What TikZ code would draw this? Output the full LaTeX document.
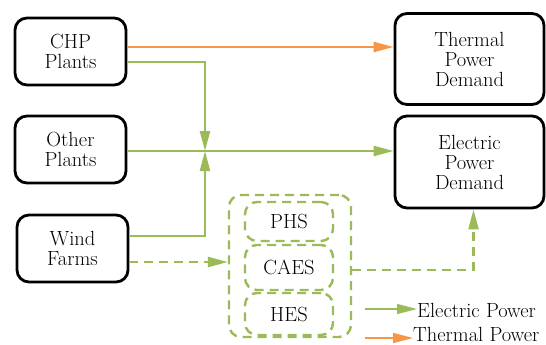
\documentclass[tikz,border=0pt]{standalone}
\usetikzlibrary{arrows.meta}
\definecolor{eg}{HTML}{9BBB59}
\definecolor{th}{HTML}{F79646}
\tikzset{
  txt/.style={font=\fontsize{20.5}{20}\selectfont},
  box/.style={txt, draw=black, line width=2.8pt, rounded corners=12pt, align=center, inner sep=0pt},
  sbox/.style={txt, draw=eg, line width=2.4pt, dash pattern=on 9pt off 6pt, rounded corners=12pt, align=center, inner sep=0pt},
  eline/.style={draw=eg, line width=2.4pt, -{Triangle[length=20pt,width=10pt]}},
  tline/.style={draw=th, line width=2.4pt, -{Triangle[length=20pt,width=10pt]}},
  edash/.style={eline, dash pattern=on 9pt off 6pt},
  leg/.style={txt, inner sep=0pt}
}
\begin{document}
\begin{tikzpicture}[x=1pt,y=-1pt]
\useasboundingbox (0,0) rectangle (546,345);
\node[box, minimum width=111pt, minimum height=67pt] (chp) at (70.5,51.5) {CHP\\Plants};
\node[box, minimum width=111pt, minimum height=67pt] (oth) at (70.5,149.5) {Other\\Plants};
\node[box, minimum width=111pt, minimum height=67pt] (wind) at (72.5,248.5) {Wind\\Farms};
\node[box, minimum width=149pt, minimum height=91pt] (tpd) at (469.5,59) {Thermal\\Power\\Demand};
\node[box, minimum width=149pt, minimum height=92pt] (epd) at (469.5,162) {Electric\\Power\\Demand};
\node[sbox, minimum width=122pt, minimum height=142pt] (sto) at (290,266) {};
\node[sbox, minimum width=88pt, minimum height=39pt] (phs) at (289,221.5) {PHS};
\node[sbox, minimum width=88pt, minimum height=45pt] (caes) at (289,267.5) {CAES};
\node[sbox, minimum width=88pt, minimum height=42pt] (hes) at (289,314) {HES};
\coordinate (J) at (205,151);
% thermal
\draw[tline] ([yshift=4.5pt]chp.east) -- ([yshift=4.5pt]chp.east -| tpd.west);
% electric
\draw[eline] ([yshift=-10.5pt]chp.east) -| (J);
\draw[eline] ([yshift=12.5pt]wind.east) -| (J);
\draw[eline] ([yshift=-1.5pt]oth.east) -- ([yshift=-1.5pt]oth.east -| epd.west);
\draw[edash] ([yshift=-13.5pt]wind.east) -- ([yshift=-13.5pt]wind.east -| sto.west);
\draw[edash] ([yshift=-4pt]sto.east) -| ([xshift=4pt]epd.south);
% legend
\node[leg, anchor=west] (le) at (417,310) {Electric Power};
\node[leg, anchor=base west] (lt) at (413,341.5) {Thermal Power};
\coordinate (les) at (365,309);
\coordinate (lts) at (365,338);
\draw[eline, line width=1.4pt] (les) -- (les -| le.west);
\draw[tline, line width=1.4pt] (lts) -- (lts -| lt.west);
\end{tikzpicture}
\end{document}
